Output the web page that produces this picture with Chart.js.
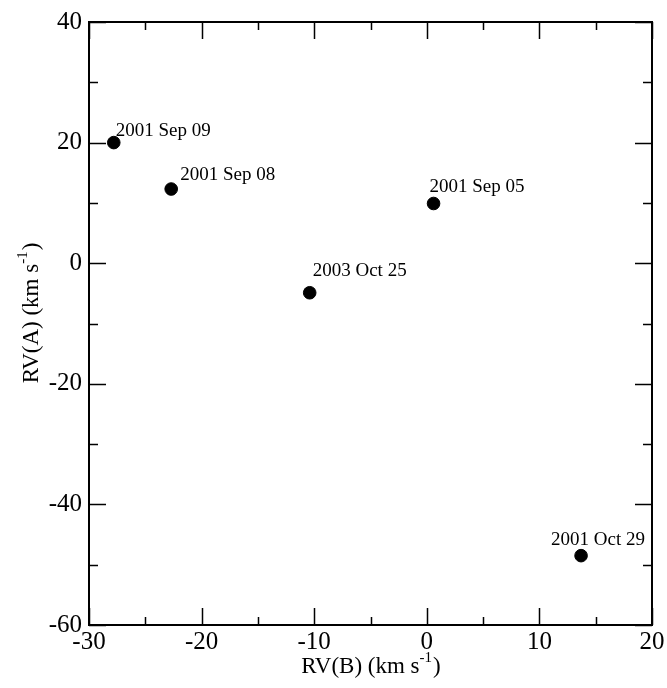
<!DOCTYPE html>
<html>
<head>
<meta charset="utf-8">
<script src="https://cdn.jsdelivr.net/npm/chart.js@4.4.1/dist/chart.umd.min.js"></script>
<style>
  html, body { margin: 0; padding: 0; background: #fff; }
  #wrap { width: 667px; height: 688px; }
</style>
</head>
<body>
<div id="wrap"><canvas id="rvChart"></canvas></div>
<script>
// observation dates and velocities (km/s)
var dates = ['2001 Sep 09', '2001 Sep 08', '2001 Sep 05', '2003 Oct 25', '2001 Oct 29'];
var rvB = [-27.8, -22.7, 0.6, -10.4, 13.7];
var rvA = [20.0, 12.3, 9.9, -4.9, -48.5];

// axis ranges / tick steps
var xRange = [-30, 20], xMajor = 10, xMinor = 5;
var yRange = [-60, 40], yMajor = 20, yMinor = 10;

// axis titles: text, superscript, closing part
var xTitle = ['RV(B) (km s', '-1', ')'];
var yTitle = ['RV(A) (km s', '-1', ')'];

var serif = "'Liberation Serif', 'Times New Roman', serif";

var points = rvB.map(function (b, i) { return { x: b, y: rvA[i] }; });

// text offset of each date label from its dot, in px
var labelShift = [[2, -7], [9, -9], [-4, -12], [3, -17], [-30, -11]];

function drawTitle(ctx, parts) {
    ctx.font = '23px ' + serif;
    var w1 = ctx.measureText(parts[0]).width;
    var w3 = ctx.measureText(parts[2]).width;
    ctx.font = '15px ' + serif;
    var w2 = ctx.measureText(parts[1]).width;
    var x0 = -(w1 + w2 + w3) / 2;
    ctx.textAlign = 'left';
    ctx.textBaseline = 'alphabetic';
    ctx.font = '23px ' + serif;
    ctx.fillText(parts[0], x0, 0);
    ctx.font = '15px ' + serif;
    ctx.fillText(parts[1], x0 + w1, -11);
    ctx.font = '23px ' + serif;
    ctx.fillText(parts[2], x0 + w1 + w2 + 1, 0);
}

var framePlugin = {
    id: 'frame',
    afterDraw: function (chart) {
        var ctx = chart.ctx, area = chart.chartArea;
        var xs = chart.scales.x, ys = chart.scales.y;
        ctx.save();
        ctx.strokeStyle = '#000';

        // tick marks on all four sides, pointing inwards
        ctx.lineWidth = 1.5;
        ctx.beginPath();
        for (var v = xRange[0]; v <= xRange[1]; v += xMinor) {
            var px = Math.round(xs.getPixelForValue(v)) + 0.5;
            var len = (v % xMajor === 0) ? 17 : 8;
            ctx.moveTo(px, area.bottom); ctx.lineTo(px, area.bottom - len);
            ctx.moveTo(px, area.top); ctx.lineTo(px, area.top + len);
        }
        for (var w = yRange[0]; w <= yRange[1]; w += yMinor) {
            var py = Math.round(ys.getPixelForValue(w)) + 0.5;
            var l2 = (w % yMajor === 0) ? 17 : 9;
            ctx.moveTo(area.left, py); ctx.lineTo(area.left + l2, py);
            ctx.moveTo(area.right, py); ctx.lineTo(area.right - l2, py);
        }
        ctx.stroke();

        ctx.lineWidth = 2;
        ctx.strokeRect(area.left, area.top, area.right - area.left, area.bottom - area.top);

        // date labels next to the points
        var meta = chart.getDatasetMeta(0);
        ctx.fillStyle = '#000';
        ctx.font = '19px ' + serif;
        ctx.textAlign = 'left';
        ctx.textBaseline = 'alphabetic';
        meta.data.forEach(function (el, i) {
            ctx.fillText(dates[i], el.x + labelShift[i][0], el.y + labelShift[i][1]);
        });

        // axis titles
        ctx.save();
        ctx.translate((area.left + area.right) / 2, 673);
        drawTitle(ctx, xTitle);
        ctx.restore();

        ctx.save();
        ctx.translate(38, (area.top + area.bottom) / 2 - 10);
        ctx.rotate(-Math.PI / 2);
        drawTitle(ctx, yTitle);
        ctx.restore();

        ctx.restore();
    }
};

var ctx = document.getElementById('rvChart').getContext('2d');
var rvChart = new Chart(ctx, {
    type: 'scatter',
    data: {
        datasets: [{
            label: 'RV',
            data: points,
            backgroundColor: '#000',
            borderColor: '#000',
            pointRadius: 6.3,
            pointHoverRadius: 6.3
        }]
    },
    options: {
        responsive: true,
        maintainAspectRatio: false,
        animation: false,
        layout: { padding: { top: 19, right: 15, left: 0, bottom: 0 } },
        plugins: {
            legend: { display: false },
            tooltip: { enabled: false }
        },
        scales: {
            x: {
                type: 'linear',
                min: xRange[0],
                max: xRange[1],
                afterFit: function (scale) { scale.height = 63; },
                border: { display: false },
                grid: { display: false, drawTicks: false },
                ticks: {
                    stepSize: xMajor,
                    autoSkip: false,
                    maxRotation: 0,
                    padding: 2,
                    color: '#000',
                    font: { family: serif, size: 25 }
                }
            },
            y: {
                type: 'linear',
                min: yRange[0],
                max: yRange[1],
                afterFit: function (scale) { scale.width = 89; },
                border: { display: false },
                grid: { display: false, drawTicks: false },
                ticks: {
                    stepSize: yMajor,
                    autoSkip: false,
                    padding: 7,
                    color: '#000',
                    font: { family: serif, size: 25 }
                }
            }
        }
    },
    plugins: [framePlugin]
});
</script>
</body>
</html>
